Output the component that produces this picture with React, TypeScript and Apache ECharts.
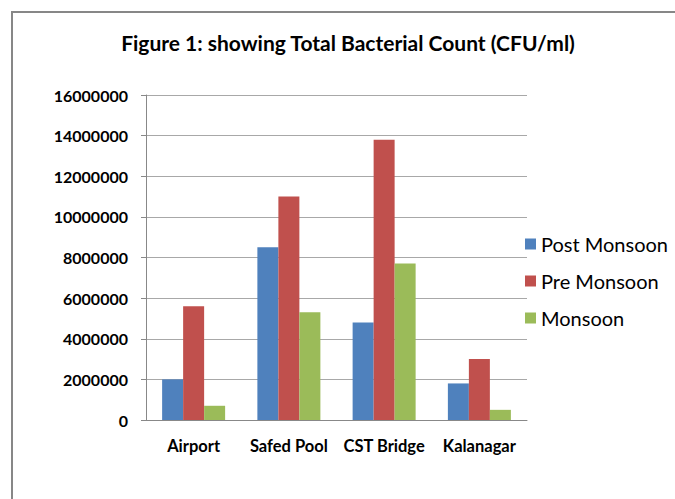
import React, { useEffect, useRef } from "react";
import * as echarts from "echarts";

const categories = ["Airport", "Safed Pool", "CST Bridge", "Kalanagar"];
const postMonsoon = [2000000, 8500000, 4800000, 1800000];
const preMonsoon = [5600000, 11000000, 13800000, 3000000];
const monsoon = [700000, 5300000, 7700000, 500000];
const seriesNames = ["Post Monsoon", "Pre Monsoon", "Monsoon"];
const colors = ["#4F81BD", "#C0504D", "#9BBB59"];
const titleText = "Figure 1: showing Total Bacterial Count (CFU/ml)";

export default function App() {
  const ref = useRef<HTMLDivElement>(null);
  useEffect(() => {
    document.body.style.margin = "0";
    const chart = echarts.init(ref.current!, null, { renderer: "svg" });
    const font = "Lato, 'Open Sans', sans-serif";
    const dataSets = [postMonsoon, preMonsoon, monsoon];
    chart.setOption({
      animation: false,
      backgroundColor: "#ffffff",
      graphic: [
        {
          type: "rect",
          shape: { x: 12, y: 12, width: 720, height: 560 },
          style: { fill: "none", stroke: "#878787", lineWidth: 2 },
          z: 0,
        },
        {
          type: "text",
          x: 348,
          y: 42,
          style: {
            text: titleText,
            fill: "#000",
            font: `bold 21px ${font}`,
            textAlign: "center",
            textVerticalAlign: "middle",
          },
        },
      ],
      legend: {
        orient: "vertical",
        left: 520,
        top: 229,
        itemWidth: 11,
        itemHeight: 11,
        itemGap: 17,
        icon: "rect",
        data: seriesNames,
        textStyle: { fontFamily: font, fontSize: 20, color: "#000", lineHeight: 20 },
      },
      grid: { left: 146, right: 148, top: 95, bottom: 79 },
      xAxis: {
        type: "category",
        data: categories,
        axisLine: { lineStyle: { color: "#888", width: 1 } },
        axisTick: { show: false },
        axisLabel: {
          interval: 0,
          hideOverlap: false,
          margin: 17,
          fontFamily: font,
          fontWeight: "bold",
          fontSize: 16.5,
          color: "#000",
        },
      },
      yAxis: {
        type: "value",
        min: 0,
        max: 16000000,
        interval: 2000000,
        axisLine: { show: true, lineStyle: { color: "#888", width: 1 } },
        axisTick: { show: true, length: 5, lineStyle: { color: "#888" } },
        splitLine: { lineStyle: { color: "#a8a8a8", width: 1 } },
        axisLabel: {
          margin: 18,
          fontFamily: font,
          fontWeight: "bold",
          fontSize: 16,
          color: "#000",
          formatter: (v: number) => String(v),
        },
      },
      series: seriesNames.map((name, i) => ({
        name,
        type: "bar",
        data: dataSets[i],
        barWidth: 21,
        barGap: "0%",
        itemStyle: { color: colors[i] },
      })),
    });
    return () => chart.dispose();
  }, []);
  return <div ref={ref} style={{ width: 675, height: 499 }} />;
}
